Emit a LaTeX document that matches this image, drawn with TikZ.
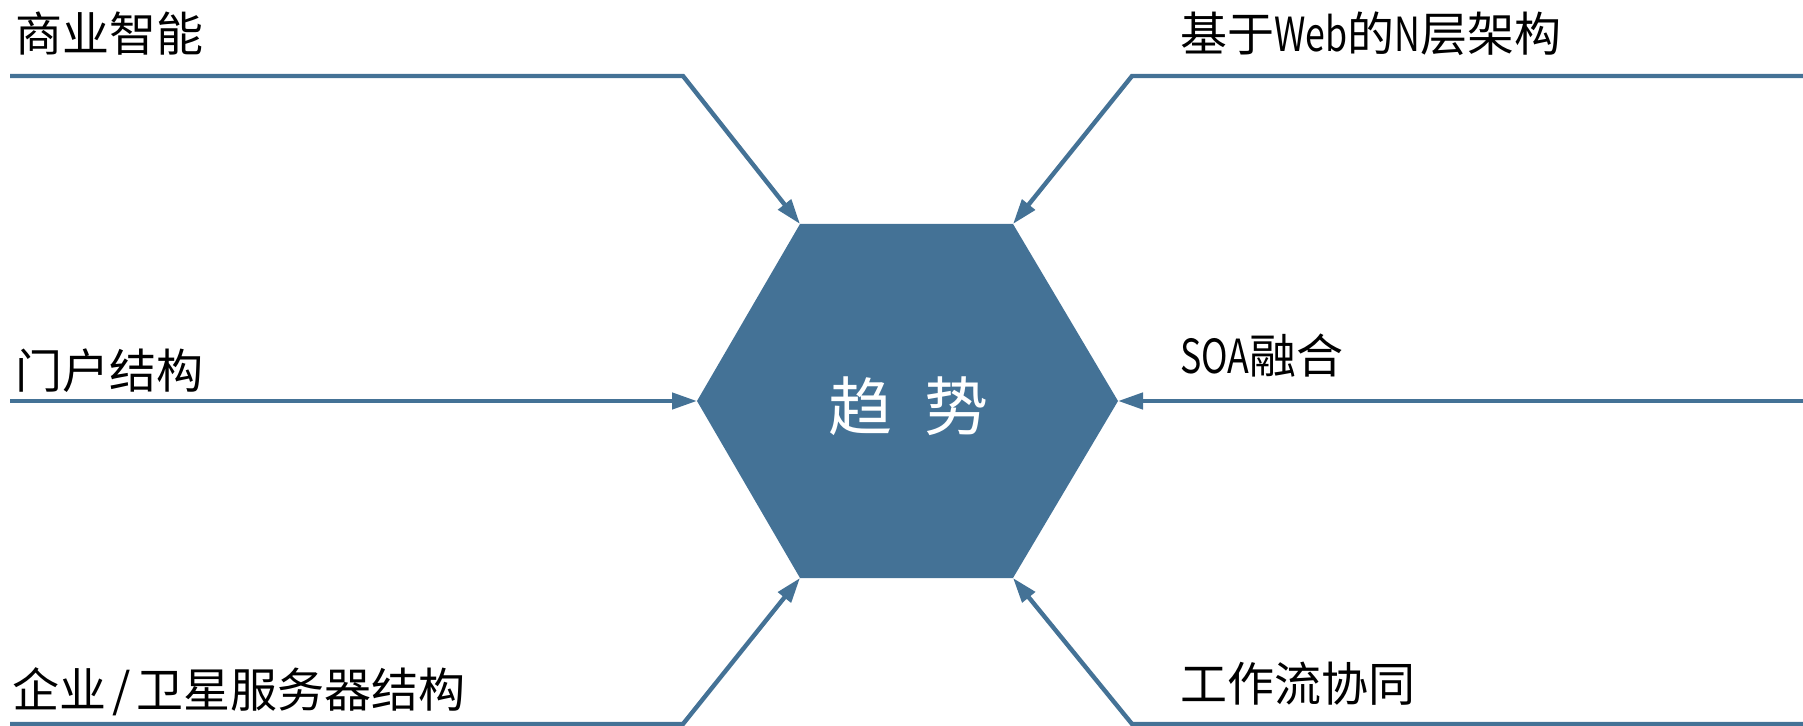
\documentclass[tikz,border=0pt]{standalone}
\usepackage{fontspec}
\usepackage{graphicx}
\setmainfont{Noto Sans CJK SC}
\usetikzlibrary{arrows.meta}
\definecolor{hexblue}{RGB}{68,114,150}
\newcommand{\narrowlat}[1]{\scalebox{0.76}[1]{#1}}
\begin{document}
\begin{tikzpicture}[x=0.5pt,y=-0.5pt,
  conn/.style={draw=hexblue, line width=2.2pt, -{Triangle[length=12.5pt,width=8pt]}},
  lab/.style={anchor=base west, inner sep=0pt, font=\fontsize{23.5pt}{28pt}\selectfont, text=black},
  hexfill/.style={fill=hexblue}]
\useasboundingbox (0,0) rectangle (1803,726);
% hexagon vertices
\coordinate (hTL) at (800,224);
\coordinate (hTR) at (1013,224);
\coordinate (hR)  at (1118,401);
\coordinate (hBR) at (1013,578);
\coordinate (hBL) at (800,578);
\coordinate (hL)  at (697,401);
\fill[hexfill] (hTL) -- (hTR) -- (hR) -- (hBR) -- (hBL) -- (hL) -- cycle;
\node[text=white, inner sep=0pt, font=\fontsize{32pt}{36pt}\selectfont] (trend) at (908,406) {趋\hspace{16pt}势};
% labels
\node[lab] (l1) at (15,52) {商业智能};
\node[lab] (l2) at (1180,52) {基于\narrowlat{Web}的\narrowlat{N}层架构};
\node[lab] (l3) at (15,389) {门户结构};
\node[lab] (l4) at (1180,374) {\narrowlat{SOA}融合};
\node[lab] (l5) at (12,707) {企业\makebox[0.65em]{/}卫星服务器结构};
\node[lab] (l6) at (1180,701) {工作流协同};
% connector points
\coordinate (s1) at (10,76);   \coordinate (b1) at (683,76);
\coordinate (s2) at (1803,76); \coordinate (b2) at (1132,76);
\coordinate (s3) at (10,401);
\coordinate (s4) at (1803,401);
\coordinate (s5) at (10,724);  \coordinate (b5) at (683,724);
\coordinate (s6) at (1803,724);\coordinate (b6) at (1132,724);
\draw[conn] (s1) -- (b1) -- (hTL);
\draw[conn] (s2) -- (b2) -- (hTR);
\draw[conn] (s3) -- (hL);
\draw[conn] (s4) -- (hR);
\draw[conn] (s5) -- (b5) -- (hBL);
\draw[conn] (s6) -- (b6) -- (hBR);
\end{tikzpicture}
\end{document}
